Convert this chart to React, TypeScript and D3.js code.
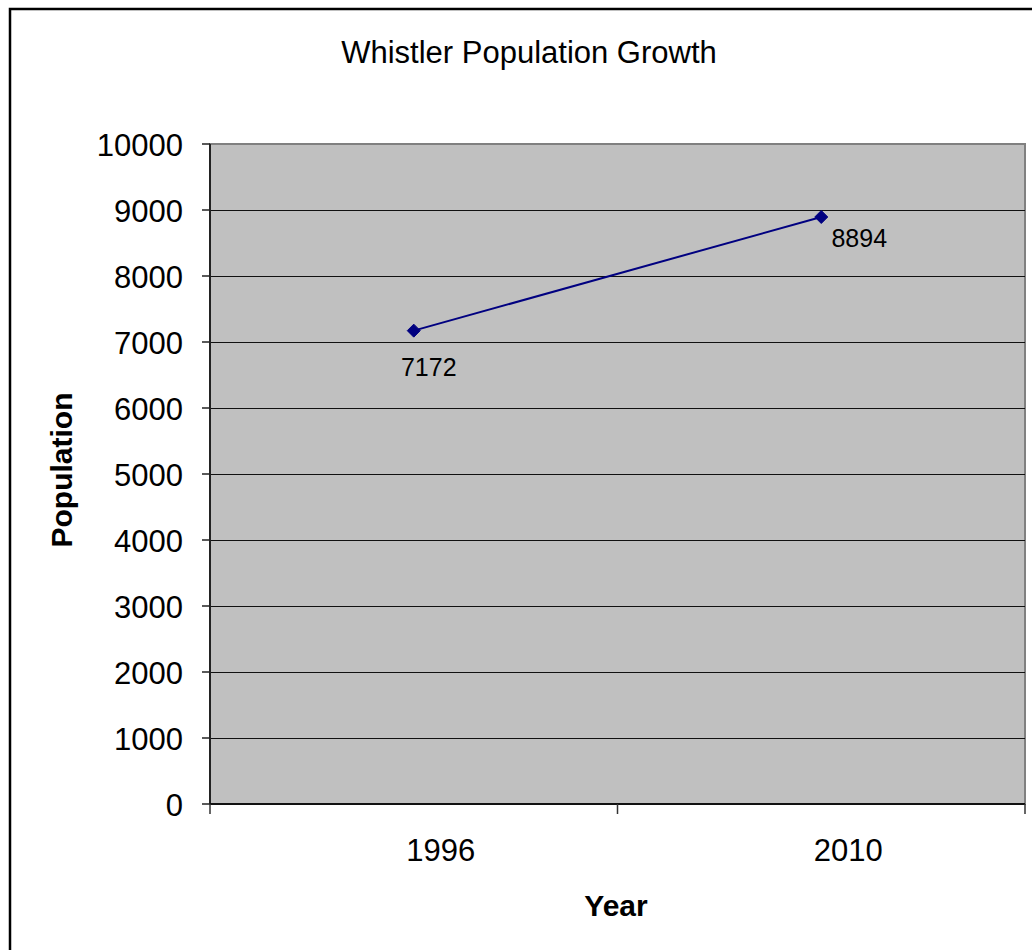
import React from "react";
import * as d3 from "d3";

const years: string[] = ["1996", "2010"];
const population: number[] = [7172, 8894];
const yTicks: number[] = [0, 1000, 2000, 3000, 4000, 5000, 6000, 7000, 8000, 9000, 10000];
const title = "Whistler Population Growth";
const xTitle = "Year";
const yTitle = "Population";

const W = 1032;
const H = 950;
const FONT = "'Liberation Sans', Arial, sans-serif";

export default function App() {
  const plot = { left: 210, right: 1025, top: 144, bottom: 804 };
  const x = d3.scaleBand<string>().domain(years).range([plot.left, plot.right]).padding(0);
  const y = d3.scaleLinear().domain([0, 10000]).range([plot.bottom, plot.top]);
  const cx = (c: string) => (x(c) as number) + x.bandwidth() / 2;

  const line = d3
    .line<number>()
    .x((_, i) => cx(years[i]))
    .y((d) => y(d));

  const bounds = [...years.map((c) => x(c) as number), plot.right];
  const labelOffsets = [
    { dx: 15, dy: 45 },
    { dx: 38, dy: 30 },
  ];

  return (
    <svg
      width={W}
      height={H}
      style={{ position: "absolute", left: 0, top: 0, background: "#fff" }}
      fontFamily={FONT}
    >
      <rect x={10} y={9} width={1060} height={980} fill="#fff" stroke="#000" strokeWidth={2.5} />
      <text x={529} y={63} fontSize={31} textAnchor="middle" fill="#000">
        {title}
      </text>

      {/* plot area */}
      <rect
        x={plot.left}
        y={plot.top}
        width={plot.right - plot.left}
        height={plot.bottom - plot.top}
        fill="#C0C0C0"
        stroke="#808080"
        strokeWidth={2}
      />

      {/* gridlines */}
      {yTicks.slice(1, -1).map((t) => (
        <line
          key={"g" + t}
          x1={plot.left}
          x2={plot.right}
          y1={Math.round(y(t)) + 0.5}
          y2={Math.round(y(t)) + 0.5}
          stroke="#111"
          strokeWidth={1}
        />
      ))}

      {/* y axis */}
      <line x1={plot.left} x2={plot.left} y1={plot.top} y2={plot.bottom} stroke="#222" strokeWidth={2} />
      {yTicks.map((t) => (
        <g key={"t" + t}>
          <line x1={plot.left - 8} x2={plot.left} y1={y(t)} y2={y(t)} stroke="#222" strokeWidth={1.5} />
          <text x={183} y={y(t) + 12} fontSize={31} textAnchor="end" fill="#000">
            {t}
          </text>
        </g>
      ))}

      {/* x axis */}
      <line x1={plot.left} x2={plot.right} y1={plot.bottom} y2={plot.bottom} stroke="#111" strokeWidth={2} />
      {bounds.map((b, i) => (
        <line key={"xt" + i} x1={b} x2={b} y1={plot.bottom} y2={plot.bottom + 10} stroke="#333" strokeWidth={1.5} />
      ))}
      {years.map((c) => (
        <text key={"xl" + c} x={cx(c) + 27} y={861} fontSize={31} textAnchor="middle" fill="#000">
          {c}
        </text>
      ))}

      {/* axis titles */}
      <text x={616} y={916} fontSize={30} fontWeight="bold" textAnchor="middle" fill="#000">
        {xTitle}
      </text>
      <text
        transform={`translate(72,470) rotate(-90)`}
        fontSize={30}
        fontWeight="bold"
        textAnchor="middle"
        fill="#000"
      >
        {yTitle}
      </text>

      {/* series */}
      <path d={line(population) || ""} fill="none" stroke="#000080" strokeWidth={2} />
      {population.map((v, i) => {
        const px = cx(years[i]);
        const py = y(v);
        const s = 6.5;
        return (
          <g key={"p" + i}>
            <path
              d={`M${px},${py - s}L${px + s},${py}L${px},${py + s}L${px - s},${py}Z`}
              fill="#000080"
              stroke="#000080"
              strokeWidth={1}
            />
            <text
              x={px + labelOffsets[i].dx}
              y={py + labelOffsets[i].dy}
              fontSize={25}
              textAnchor="middle"
              fill="#000"
            >
              {v}
            </text>
          </g>
        );
      })}
    </svg>
  );
}
